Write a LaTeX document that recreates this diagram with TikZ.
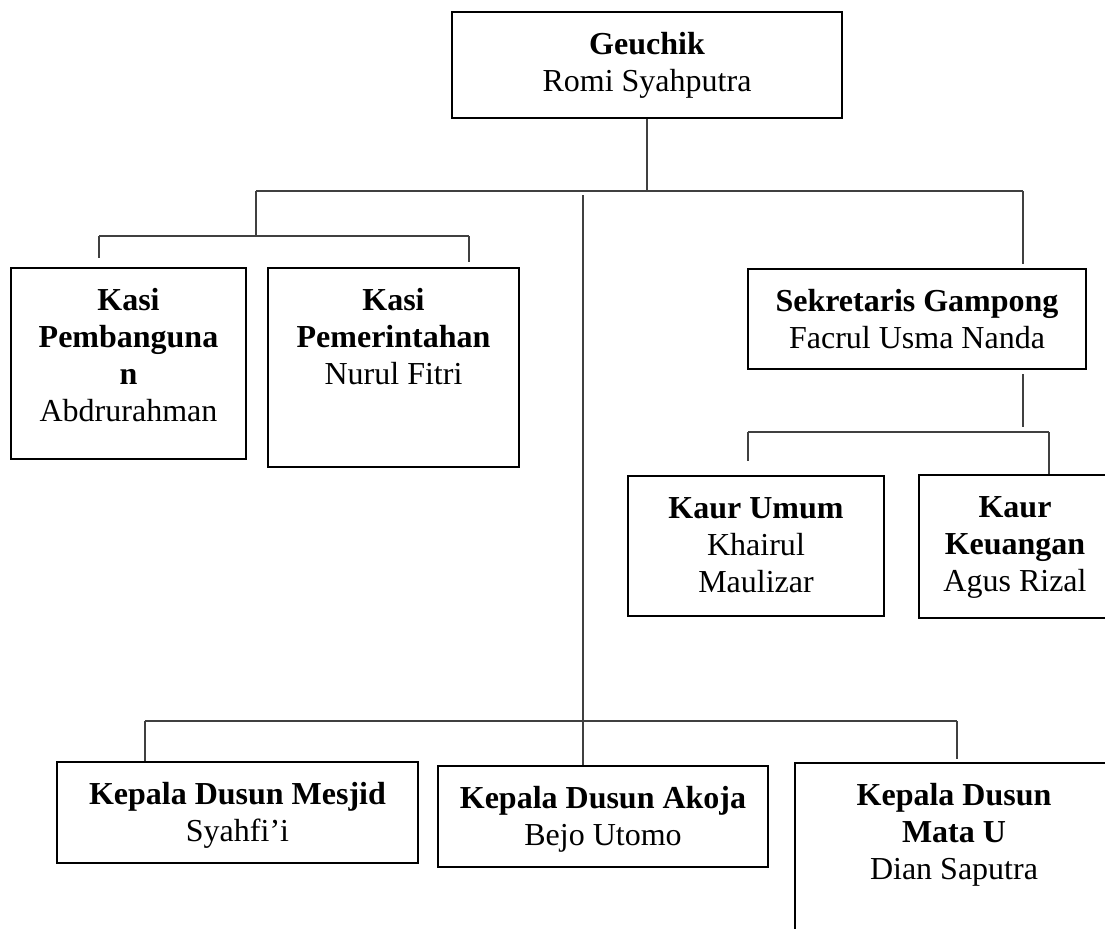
\documentclass[tikz,border=0pt]{standalone}
\usepackage{fontspec}
\setmainfont{Liberation Serif}
\usetikzlibrary{calc}
\newlength{\px}
\setlength{\px}{0.75pt}
\newcommand{\isikotak}[3]{\parbox[c][#2\px][t]{#1\px}{\centering\rule{0pt}{42\px}#3}}
\tikzset{
  jabatan/.style={draw=black,line width=1.7pt,inner sep=0pt,
                  font=\fontsize{24}{27.75}\selectfont},
  garis/.style={draw=black!75,line width=0.8pt},
}

\begin{document}
\begin{tikzpicture}[x=0.75pt,y=-0.75pt]
  \useasboundingbox (0,0) rectangle (1105,928);
  \clip (0,0) rectangle (1105,928);

  \node[jabatan] (geuchik) at (647,65)
    {\isikotak{390}{106}{\textbf{Geuchik}\\Romi Syahputra}};
  \node[jabatan] (pemb) at (128.5,363.5)
    {\isikotak{235}{191}{\textbf{Kasi}\\\textbf{Pembanguna}\\\textbf{n}\\Abdrurahman}};
  \node[jabatan] (pemer) at (393.5,367.5)
    {\isikotak{251}{199}{\textbf{Kasi}\\\textbf{Pemerintahan}\\Nurul Fitri}};
  \node[jabatan] (sekdes) at (917,319)
    {\isikotak{338}{100}{\textbf{Sekretaris Gampong}\\Facrul Usma Nanda}};
  \node[jabatan] (umum) at (756,546)
    {\isikotak{256}{140}{\textbf{Kaur Umum}\\Khairul\\Maulizar}};
  \node[jabatan] (keuangan) at (1015,546.5)
    {\isikotak{192}{143}{\textbf{Kaur}\\\textbf{Keuangan}\\Agus Rizal}};
  \node[jabatan] (mesjid) at (237.5,812.5)
    {\isikotak{361}{101}{\textbf{Kepala Dusun Mesjid}\\Syahfi’i}};
  \node[jabatan] (akoja) at (603,816.5)
    {\isikotak{330}{101}{\textbf{Kepala Dusun Akoja}\\Bejo Utomo}};
  \node[jabatan] (matau) at (954,883)
    {\isikotak{318}{240}{\textbf{Kepala Dusun}\\\textbf{Mata U}\\Dian Saputra}};

  \coordinate (cabangkiri) at (256,191);
  \coordinate (cabangkanan) at (1023,191);
  \coordinate (bahukiri) at (256,236);
  \coordinate (kasikiri) at (99,236);
  \coordinate (kasikanan) at (469,236);
  \coordinate (bahusek) at (1023,432);
  \coordinate (kaurkiri) at (748,432);
  \coordinate (kaurkanan) at (1049,432);
  \coordinate (poros) at (583,195);
  \coordinate (dusunkiri) at (145,721);
  \coordinate (dusunkanan) at (957,721);

  \draw[garis] (geuchik.south) -- (geuchik.south |- cabangkiri);
  \draw[garis] (cabangkiri) -- (cabangkanan);
  \draw[garis] (cabangkiri) -- (bahukiri);
  \draw[garis] (kasikiri) -- (kasikanan);
  \draw[garis] (kasikiri) -- ($(kasikiri |- pemb.north)+(0,-9)$);
  \draw[garis] (kasikanan) -- ($(kasikanan |- pemer.north)+(0,-5)$);
  \draw[garis] (cabangkanan) -- ($(sekdes.north -| cabangkanan)+(0,-4)$);
  \draw[garis] ($(sekdes.south -| bahusek)+(0,4)$) -- ($(bahusek)+(0,-5)$);
  \draw[garis] (kaurkiri) -- (kaurkanan);
  \draw[garis] (kaurkiri) -- ($(kaurkiri |- umum.north)+(0,-14)$);
  \draw[garis] (kaurkanan) -- (kaurkanan |- keuangan.north);
  \draw[garis] (poros) -- (poros |- akoja.north);
  \draw[garis] (dusunkiri) -- (dusunkanan);
  \draw[garis] (dusunkiri) -- (dusunkiri |- mesjid.north);
  \draw[garis] (dusunkanan) -- ($(dusunkanan |- matau.north)+(0,-3)$);
\end{tikzpicture}
\end{document}
